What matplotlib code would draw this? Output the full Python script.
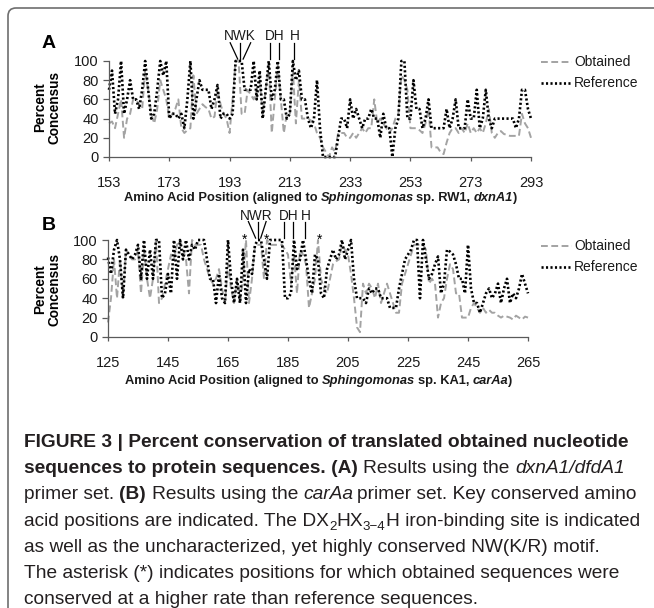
import numpy as np
import matplotlib
matplotlib.use("Agg")
import matplotlib.pyplot as plt
from matplotlib.transforms import Affine2D
from matplotlib.lines import Line2D
from matplotlib.path import Path
from matplotlib.patches import PathPatch

# ---- data (percent consensus per aligned amino acid position) ----
pos_a = np.arange(153, 294)
ref_a = [70, 90, 45, 60, 100, 45, 60, 80, 60, 60,
         50, 70, 100, 70, 40, 45, 70, 100, 85, 100,
         40, 45, 45, 40, 45, 30, 60, 100, 40, 60,
         80, 70, 70, 70, 50, 60, 75, 40, 45, 45,
         40, 45, 100, 100, 100, 70, 70, 70, 100, 60,
         90, 40, 70, 100, 60, 70, 100, 60, 60, 40,
         45, 100, 80, 90, 60, 60, 40, 30, 40, 80,
         30, 0, 0, 0, 0, 0, 20, 40, 40, 30,
         60, 40, 50, 40, 30, 40, 40, 50, 40, 40,
         20, 45, 30, 30, 0, 30, 40, 100, 100, 40,
         40, 80, 50, 50, 30, 40, 60, 30, 30, 30,
         30, 30, 50, 30, 40, 60, 30, 30, 30, 60,
         40, 40, 70, 30, 40, 70, 40, 30, 40, 40,
         40, 40, 40, 40, 40, 30, 40, 70, 70, 50,
         40]
obt_a = [35, 37, 30, 45, 60, 20, 40, 45, 60, 60,
         55, 50, 90, 70, 45, 35, 50, 80, 70, 60,
         40, 45, 50, 60, 30, 25, 28, 30, 85, 45,
         50, 55, 52, 50, 40, 42, 70, 55, 45, 40,
         25, 60, 100, 100, 45, 45, 70, 65, 60, 70,
         80, 45, 70, 95, 25, 60, 95, 60, 25, 45,
         45, 90, 35, 80, 40, 40, 40, 38, 35, 25,
         20, 10, 5, 0, 10, 5, 25, 25, 25, 20,
         20, 25, 20, 25, 30, 25, 30, 30, 60, 35,
         40, 35, 30, 25, 30, 40, 45, 85, 80, 70,
         30, 30, 30, 28, 25, 35, 50, 10, 10, 10,
         5, 3, 15, 25, 30, 30, 25, 30, 25, 35,
         25, 30, 25, 30, 25, 35, 50, 25, 20, 25,
         27, 24, 23, 22, 22, 22, 22, 45, 35, 30,
         20]

pos_b = np.arange(125, 266)
ref_b = [82, 65, 90, 100, 80, 40, 90, 85, 80, 85,
         95, 60, 100, 60, 90, 60, 100, 100, 40, 45,
         65, 45, 100, 60, 100, 80, 100, 80, 95, 90,
         100, 100, 100, 80, 60, 60, 35, 65, 40, 35,
         100, 60, 35, 60, 35, 90, 35, 70, 65, 95,
         100, 100, 80, 60, 100, 100, 100, 100, 100, 40,
         40, 45, 100, 70, 80, 100, 80, 60, 45, 85,
         80, 45, 40, 70, 80, 90, 80, 85, 100, 80,
         90, 100, 60, 40, 40, 40, 35, 50, 45, 50,
         50, 40, 40, 40, 30, 30, 30, 50, 65, 80,
         85, 90, 100, 100, 40, 100, 80, 60, 65, 75,
         83, 45, 55, 90, 88, 85, 75, 60, 60, 45,
         95, 50, 35, 35, 25, 35, 45, 50, 40, 45,
         55, 35, 50, 60, 35, 45, 40, 50, 65, 55,
         45]
obt_b = [15, 40, 80, 40, 80, 40, 90, 85, 80, 80,
         90, 45, 90, 60, 40, 60, 100, 35, 40, 55,
         70, 85, 80, 95, 100, 90, 80, 45, 100, 95,
         95, 95, 80, 70, 60, 55, 60, 70, 50, 35,
         75, 50, 35, 60, 35, 60, 100, 35, 60, 95,
         95, 95, 60, 100, 95, 95, 95, 95, 95, 90,
         85, 55, 85, 45, 90, 85, 75, 30, 45, 60,
         100, 60, 50, 45, 60, 75, 78, 80, 95, 90,
         85, 65, 40, 10, 5, 55, 45, 55, 50, 40,
         55, 35, 45, 55, 45, 35, 25, 25, 55, 65,
         75, 85, 95, 95, 95, 95, 90, 55, 60, 55,
         20, 35, 40, 60, 75, 70, 45, 45, 20, 20,
         20, 30, 35, 30, 25, 30, 25, 28, 25, 25,
         22, 20, 22, 21, 20, 18, 22, 20, 18, 21,
         20]

ticks_a = [153, 173, 193, 213, 233, 253, 273, 293]
ticks_b = [125, 145, 165, 185, 205, 225, 245, 265]
yticks = [0, 20, 40, 60, 80, 100]

W, H = 654, 608
SANS = ['Liberation Sans', 'DejaVu Sans']
NARROW = ['Liberation Sans Narrow', 'Liberation Sans', 'DejaVu Sans']
AX_COL = '#5a5a5a'

fig = plt.figure(figsize=(W / 100, H / 100), dpi=100)
px = Affine2D().scale(1 / W, -1 / H).translate(0, 1) + fig.transFigure
r = fig.canvas.get_renderer()


def tw(s, kw):
    t = fig.text(0, 0, s, **kw)
    w = t.get_window_extent(r).width
    t.remove()
    return w


def adv(s, kw):
    return tw('x' + s + 'x', kw) - tw('xx', kw)


def draw_runs(runs, x, y, ha='left', color='#231f20'):
    # runs: (text, kwargs, dy); italic runs get a slight tightening after them
    widths = []
    for s, kw, dy in runs:
        w = adv(s, kw)
        if kw.get('fontstyle') == 'italic' and not s.endswith(' '):
            w -= 1.5
        widths.append(w)
    total = sum(widths)
    cx = x - total / 2 if ha == 'center' else x
    for (s, kw, dy), w in zip(runs, widths):
        lead = s[:len(s) - len(s.lstrip(' '))]
        core = s.strip(' ')
        lw = adv(lead, kw) if lead else 0
        fig.text(cx + lw, y + dy, core, transform=px, va='baseline', ha='left',
                 color=color, **kw)
        cx += w
    return total


# ---- frame (top + left edge with rounded corner) ----
frame = Path([(8, H + 2), (8, 16), (8, 8), (16, 8), (W + 2, 8)],
             [Path.MOVETO, Path.LINETO, Path.CURVE3, Path.CURVE3, Path.LINETO])
fig.add_artist(PathPatch(frame, transform=px, fill=False, ec='#6e6e6e', lw=1.2))


def panel(rect, pos, obt, ref, ticks, ly):
    ax = fig.add_axes(rect)
    ax.plot(pos, obt, color='#a3a3a3', lw=1.4, dashes=(3.5, 1.8), clip_on=False)
    ax.plot(pos, ref, color='black', lw=1.9, dashes=(0.8, 0.9), clip_on=False)
    ax.set_xlim(pos[0], pos[-1])
    ax.set_ylim(0, 100)
    ax.set_xticks(ticks)
    ax.set_yticks(yticks)
    for s in ['top', 'right']:
        ax.spines[s].set_visible(False)
    for s in ['left', 'bottom']:
        ax.spines[s].set_color(AX_COL)
        ax.spines[s].set_linewidth(0.9)
    ax.tick_params(axis='x', direction='out', length=3, width=0.9, color=AX_COL,
                   labelsize=10.5, pad=10.5)
    ax.tick_params(axis='y', direction='out', length=4, width=0.9, color=AX_COL,
                   labelsize=10.5, pad=3.5)
    for lab in ax.get_xticklabels() + ax.get_yticklabels():
        lab.set_family(SANS)
        lab.set_color('#1a1a1a')
    # legend
    for k, (lbl, col, lw, ds) in enumerate([('Obtained', '#a3a3a3', 1.4, (3.5, 1.8)),
                                             ('Reference', 'black', 1.9, (0.8, 0.9))]):
        yy = ly + 21 * k
        fig.add_artist(Line2D([541, 572], [yy, yy], transform=px, color=col, lw=lw,
                              dashes=ds))
        fig.text(574, yy, lbl, transform=px, va='center', ha='left', fontsize=10,
                 family=SANS, color='#1a1a1a')
    return ax


axA = panel([109 / W, 1 - 157 / H, 422 / W, 96 / H], pos_a, obt_a, ref_a, ticks_a, 62)
axB = panel([108 / W, 1 - 337 / H, 420 / W, 97 / H], pos_b, obt_b, ref_b, ticks_b, 246)

# panel letters and y labels
fig.text(49, 43, 'A', transform=px, fontsize=14, fontweight='bold', family=SANS,
         ha='center', va='center')
fig.text(49, 226, 'B', transform=px, fontsize=14, fontweight='bold', family=SANS,
         ha='center', va='center')
for yc in [107, 289]:
    fig.text(47, yc, 'Percent\nConcensus', transform=px, rotation=90, fontsize=9.8,
             fontweight='bold', family=SANS, ha='center', va='center',
             multialignment='center', linespacing=1.05)

# x labels
bk = dict(fontsize=9.3, fontweight='bold', family=SANS)
bik = dict(fontsize=9.3, fontweight='bold', fontstyle='italic', family=SANS)
draw_runs([('Amino Acid Position (aligned to ', bk, 0), ('Sphingomonas', bik, 0),
           (' sp. RW1, ', bk, 0), ('dxnA1', bik, 0), (')', bk, 0)],
          320, 201, ha='center', color='#1a1a1a')
draw_runs([('Amino Acid Position (aligned to ', bk, 0), ('Sphingomonas', bik, 0),
           (' sp. KA1, ', bk, 0), ('carAa', bik, 0), (')', bk, 0)],
          318, 384, ha='center', color='#1a1a1a')

# motif annotations
ann = dict(fontsize=9.8, family=SANS, ha='center', va='center', color='#1a1a1a')
lk = dict(color='black', lw=0.9, clip_on=False)
axA.text(196.5, 126, 'NWK', **ann)
axA.plot([193.2, 195.7], [119, 102], **lk)
axA.plot([196.5, 196.5], [119, 102], **lk)
axA.plot([200.0, 197.5], [119, 102], **lk)
axA.text(208.0, 126, 'DH', **ann)
axA.plot([206.5, 206.5], [119, 102], **lk)
axA.plot([209.4, 209.4], [119, 102], **lk)
axA.text(214.5, 126, 'H', **ann)
axA.plot([214.5, 214.5], [119, 102], **lk)

axB.text(174.5, 125, 'NWR', **ann)
axB.plot([171.8, 174.2], [119, 102], **lk)
axB.plot([175.0, 175.0], [119, 102], **lk)
axB.plot([177.7, 175.9], [119, 102], **lk)
axB.text(185.3, 125, 'DH', **ann)
axB.plot([183.8, 183.8], [119, 102], **lk)
axB.plot([186.8, 186.8], [119, 102], **lk)
axB.text(190.8, 125, 'H', **ann)
axB.plot([190.8, 190.8], [119, 102], **lk)
for xs in [170.6, 177.8, 195.4]:
    axB.text(xs, 96, '*', fontsize=10, family=SANS, ha='center', va='baseline')

# ---- caption ----
base = 12.5
CB = dict(fontsize=base, fontweight='bold', family=NARROW)
line1 = 'FIGURE 3 | Percent conservation of translated obtained nucleotide'
size = base * 606 / adv(line1, CB)
CB = dict(fontsize=size, fontweight='bold', family=NARROW)
CR = dict(fontsize=size, family=NARROW)
CI = dict(fontsize=size, fontstyle='italic', family=NARROW)
CS = dict(fontsize=size * 0.7, family=NARROW)
lines = [
    [(line1, CB, 0)],
    [('sequences to protein sequences. (A)', CB, 0), (' Results using the ', CR, 0),
     ('dxnA1/dfdA1', CI, 0)],
    [('primer set. ', CR, 0), ('(B)', CB, 0), (' Results using the ', CR, 0),
     ('carAa', CI, 0), (' primer set. Key conserved amino', CR, 0)],
    [('acid positions are indicated. The DX', CR, 0), ('2', CS, 4), ('HX', CR, 0),
     ('3\u22124', CS, 4), ('H iron-binding site is indicated', CR, 0)],
    [('as well as the uncharacterized, yet highly conserved NW(K/R) motif.', CR, 0)],
    [('The asterisk (*) indicates positions for which obtained sequences were', CR, 0)],
    [('conserved at a higher rate than reference sequences.', CR, 0)],
]
for i, runs in enumerate(lines):
    draw_runs(runs, 24, 447 + 26.2 * i)

fig.savefig('out.png', dpi=100)
